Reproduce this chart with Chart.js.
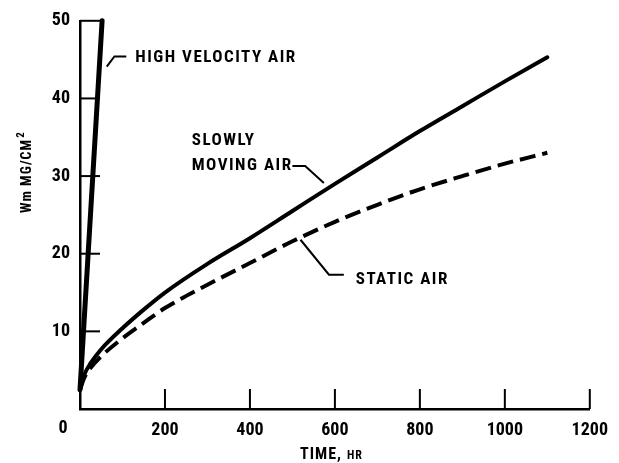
<!DOCTYPE html>
<html>
<head>
<meta charset="utf-8">
<script src="https://cdn.jsdelivr.net/npm/chart.js@4.4.0/dist/chart.umd.min.js"></script>
<style>
html,body{margin:0;padding:0;background:#fff;}
#wrap{width:619px;height:463px;position:relative;}
</style>
</head>
<body>
<div id="wrap"><canvas id="c" width="619" height="463"></canvas></div>
<script>
// ---- data ----
const highVelX = [0, 52];
const highVelY = [2.5, 50];

const slowX = [0, 10, 25, 50, 100, 150, 200, 300, 400, 500, 600, 700, 800, 900, 1000, 1100];
const slowY = [2.5, 4.4, 5.9, 7.7, 10.4, 12.8, 15, 18.7, 22, 25.5, 29, 32.4, 35.8, 39.0, 42.2, 45.3];

const staticX = [0, 10, 25, 50, 100, 150, 200, 300, 400, 500, 600, 700, 800, 900, 1000, 1100];
const staticY = [2.5, 4.0, 5.3, 6.8, 9.1, 11.1, 13, 16, 18.8, 21.6, 24.1, 26.3, 28.3, 30, 31.6, 33];

const xTicks = [0, 200, 400, 600, 800, 1000, 1200];
const yTicks = [0, 10, 20, 30, 40, 50];

const labelHigh = "HIGH VELOCITY AIR";
const labelSlow1 = "SLOWLY";
const labelSlow2 = "MOVING AIR";
const labelStatic = "STATIC AIR";
const xTitleMain = "TIME,";
const xTitleUnit = "HR";
const yTitleMain = "Wm MG/CM";
const yTitleSup = "2";

// ---- build ----
const pts = (xs, ys) => xs.map((x, i) => ({x, y: ys[i]}));
const FONT = '"Liberation Sans Narrow", "Roboto Condensed", sans-serif';

// annotation anchors in data units
const notes = {
  high: {text: [130, 45.3], leader: [[109, 45.4], [81, 45.4], [63, 44.1]]},
  slow: {text1: [263, 34.5], text2: [263, 31.3], leader: [[500, 31.3], [530, 31.3], [574, 29.1]]},
  stat: {text: [649, 16.7], leader: [[519, 21.8], [586, 17.3], [621, 17.3]]}
};

const decor = {
  id: 'decor',
  afterDraw(chart) {
    const ctx = chart.ctx;
    const xs = chart.scales.x, ys = chart.scales.y;
    const px = v => xs.getPixelForValue(v), py = v => ys.getPixelForValue(v);
    ctx.save();
    ctx.strokeStyle = '#000';
    ctx.fillStyle = '#000';
    ctx.lineCap = 'butt';
    // inward ticks
    ctx.lineWidth = 2;
    yTicks.forEach(v => {
      if (v === 0) return;
      ctx.beginPath(); ctx.moveTo(px(0), py(v)); ctx.lineTo(px(0) + 20, py(v)); ctx.stroke();
    });
    xTicks.forEach(v => {
      if (v === 0) return;
      ctx.beginPath(); ctx.moveTo(px(v), py(0)); ctx.lineTo(px(v), py(0) - 20); ctx.stroke();
    });
    // origin label
    ctx.font = 'bold 18px ' + FONT;
    ctx.textAlign = 'center'; ctx.textBaseline = 'middle';
    ctx.fillText('0', px(0) - 17, py(0) + 19);

    // leaders
    ctx.lineWidth = 2;
    const leader = arr => {
      ctx.beginPath();
      arr.forEach((p, i) => i ? ctx.lineTo(px(p[0]), py(p[1])) : ctx.moveTo(px(p[0]), py(p[1])));
      ctx.stroke();
    };
    leader(notes.high.leader);
    leader(notes.slow.leader);
    leader(notes.stat.leader);

    // annotation texts
    ctx.font = 'bold 17px ' + FONT;
    ctx.textAlign = 'left'; ctx.textBaseline = 'middle';
    if ('letterSpacing' in ctx) ctx.letterSpacing = '1.5px';
    ctx.fillText(labelHigh, px(notes.high.text[0]), py(notes.high.text[1]));
    ctx.fillText(labelSlow1, px(notes.slow.text1[0]), py(notes.slow.text1[1]));
    ctx.fillText(labelSlow2, px(notes.slow.text2[0]), py(notes.slow.text2[1]));
    ctx.fillText(labelStatic, px(notes.stat.text[0]), py(notes.stat.text[1]));

    // x title
    ctx.textBaseline = 'alphabetic';
    ctx.letterSpacing = '1px';
    ctx.font = 'bold 16px ' + FONT;
    ctx.fillText(xTitleMain, 300, 459);
    const w = ctx.measureText(xTitleMain).width;
    ctx.font = 'bold 12px ' + FONT;
    ctx.fillText(xTitleUnit, 300 + w + 5, 459);

    // y title (rotated)
    ctx.translate(31, 213);
    ctx.rotate(-Math.PI / 2);
    ctx.font = 'bold 14px ' + FONT;
    ctx.letterSpacing = '1px';
    ctx.fillText(yTitleMain, 0, 0);
    const w2 = ctx.measureText(yTitleMain).width;
    ctx.font = 'bold 11px ' + FONT;
    ctx.fillText(yTitleSup, w2 + 1, -7);
    ctx.restore();
  }
};

new Chart(document.getElementById('c'), {
  type: 'line',
  data: {
    datasets: [
      {label: 'High velocity air', data: pts(highVelX, highVelY), borderColor: '#000', borderWidth: 5, pointRadius: 0, tension: 0, borderCapStyle: 'round'},
      {label: 'Slowly moving air', data: pts(slowX, slowY), borderColor: '#000', borderWidth: 4, pointRadius: 0, cubicInterpolationMode: 'monotone', borderCapStyle: 'round'},
      {label: 'Static air', data: pts(staticX, staticY), borderColor: '#000', borderWidth: 4, pointRadius: 0, cubicInterpolationMode: 'monotone', borderDash: [16, 7], borderCapStyle: 'butt'}
    ]
  },
  options: {
    responsive: false,
    animation: false,
    clip: false,
    layout: {padding: {top: 16, right: 23, left: 0, bottom: 0}},
    plugins: {legend: {display: false}, tooltip: {enabled: false}},
    scales: {
      x: {
        type: 'linear', min: 0, max: 1200,
        afterBuildTicks: s => { s.ticks = xTicks.map(v => ({value: v})); },
        afterFit: s => { s.height = 54; },
        grid: {display: false, drawTicks: false},
        border: {display: true, color: '#000', width: 2.5},
        ticks: {padding: 11, color: '#000', font: {family: FONT, size: 18, weight: 'bold'}, maxRotation: 0,
                callback: v => v === 0 ? '' : String(v)}
      },
      y: {
        type: 'linear', min: 0, max: 50,
        afterBuildTicks: s => { s.ticks = yTicks.map(v => ({value: v})); },
        afterFit: s => { s.width = 80; },
        grid: {display: false, drawTicks: false},
        border: {display: true, color: '#000', width: 2.5},
        ticks: {padding: 10, color: '#000', font: {family: FONT, size: 18, weight: 'bold'},
                callback: v => v === 0 ? '' : String(v)}
      }
    }
  },
  plugins: [decor]
});
</script>
</body>
</html>
